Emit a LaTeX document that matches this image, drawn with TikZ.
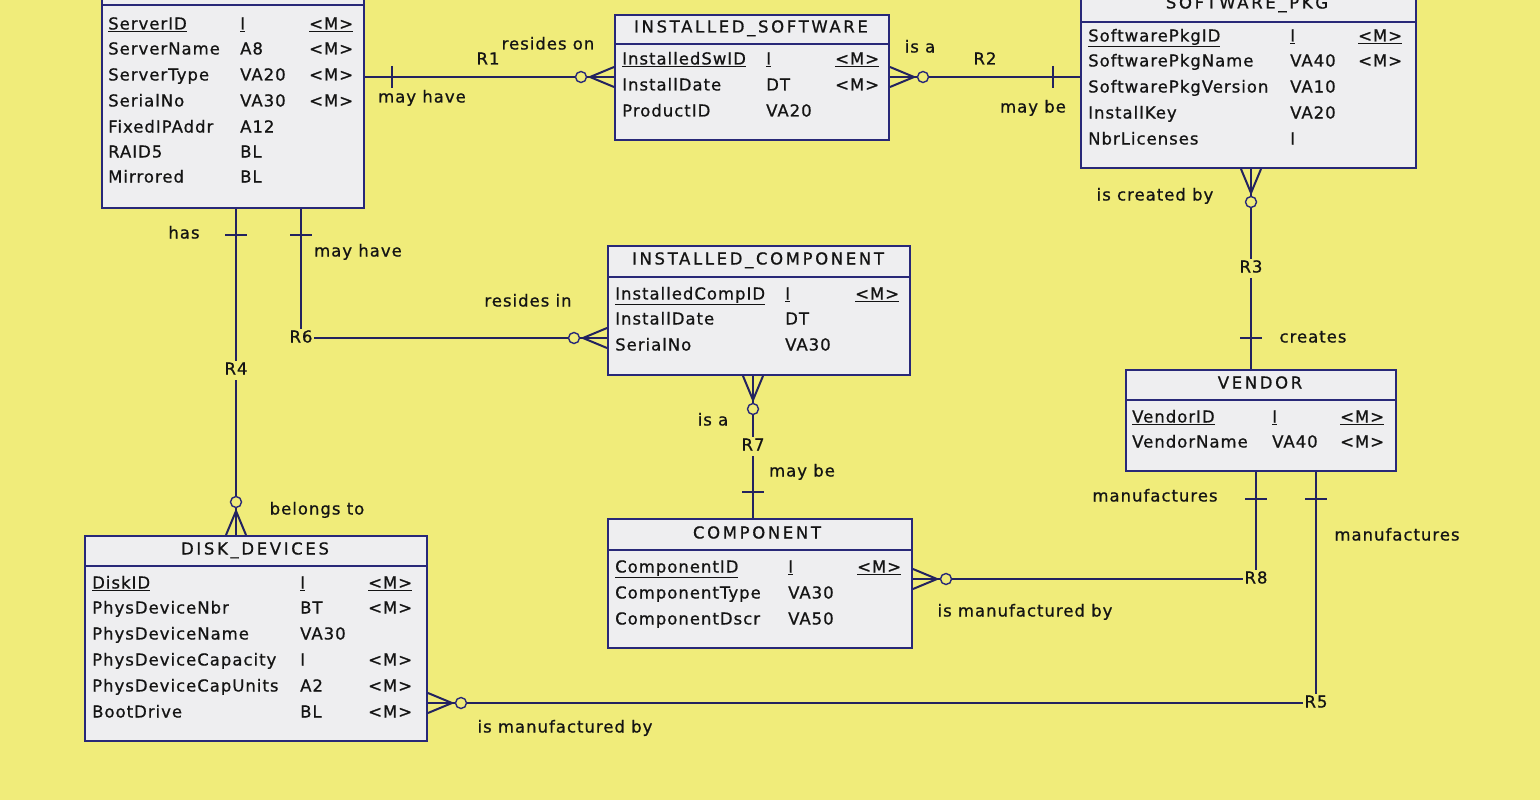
\documentclass[tikz,border=0pt]{standalone}
\usepackage{fontspec}
\setmainfont{DejaVu Sans}[LetterSpace=6,FakeBold=0.8]
\newfontfamily\titlefont{DejaVu Sans}[LetterSpace=16,FakeBold=0.8]
\usetikzlibrary{calc}
\definecolor{bg}{RGB}{240,236,122}
\definecolor{boxfill}{RGB}{238,238,240}
\definecolor{navy}{RGB}{40,40,120}
\definecolor{lnc}{RGB}{35,35,95}
\definecolor{txt}{RGB}{20,20,20}
\tikzset{
 entity/.style={draw=navy, line width=2pt, fill=boxfill, rectangle, inner sep=0pt, anchor=north west},
 sepline/.style={draw=navy, line width=2pt},
 attr/.style={anchor=west, inner sep=0pt, text height=12pt, text depth=3pt, font=\fontsize{16.5}{18}\selectfont, text=txt},
 etitle/.style={anchor=center, inner sep=0pt, text height=12pt, text depth=3pt, font=\titlefont\fontsize{16.5}{18}\selectfont, text=txt},
 lbl/.style={anchor=center, inner sep=0pt, text height=12pt, text depth=3pt, font=\fontsize{16.5}{18}\selectfont, text=txt},
 rlbl/.style={lbl, fill=bg, inner sep=2pt},
 conn/.style={draw=lnc, line width=2pt},
 zero/.style={draw=navy, line width=1.4pt, fill=bg},
}
\newcommand\ercols[3]{\def\erA{#1}\def\erB{#2}\def\erC{#3}}
\newcommand\erowm[5]{\node[attr] (#1n) at (\erA,#2) {#3}; \node[attr] (#1t) at (\erB,#2) {#4}; \node[attr] (#1m) at (\erC,#2) {#5};}
\newcommand\erowt[4]{\node[attr] (#1n) at (\erA,#2) {#3}; \node[attr] (#1t) at (\erB,#2) {#4};}
\newcommand\crowfoot[3]{%
 \draw[conn] ($(#1)+({24*(#2)},{24*(#3)})$) -- ($(#1)+({10*(#3)},{-10*(#2)})$)
   ($(#1)+({24*(#2)},{24*(#3)})$) -- ($(#1)+({-10*(#3)},{10*(#2)})$);
 \draw[zero] ($(#1)+({33*(#2)},{33*(#3)})$) circle[radius=5.5pt];}
\newcommand\tickH[1]{\draw[conn] ($(#1)+(-11,0)$) -- ($(#1)+(11,0)$);}
\newcommand\tickV[1]{\draw[conn] ($(#1)+(0,-11)$) -- ($(#1)+(0,11)$);}
\begin{document}
\begin{tikzpicture}[x=1pt,y=-1pt]
\useasboundingbox (0,0) rectangle (1540,800);
\clip (0,0) rectangle (1540,800);
\fill[bg] (0,0) rectangle (1540,800);

% entity boxes
\node[entity, minimum width=262pt, minimum height=237pt] (server) at (101,-30) {};
\node[entity, minimum width=274pt, minimum height=125pt] (isw) at (614,14) {};
\node[entity, minimum width=335pt, minimum height=181pt] (swp) at (1080,-14) {};
\node[entity, minimum width=302pt, minimum height=129pt] (icomp) at (607,245) {};
\node[entity, minimum width=270pt, minimum height=101pt] (vendor) at (1125,369) {};
\node[entity, minimum width=304pt, minimum height=129pt] (comp) at (607,518) {};
\node[entity, minimum width=342pt, minimum height=205pt] (disk) at (84,535) {};

% separators
\draw[sepline] (server.west |- 0,5) -- (server.east |- 0,5);
\draw[sepline] (isw.west |- 0,44) -- (isw.east |- 0,44);
\draw[sepline] (swp.west |- 0,22) -- (swp.east |- 0,22);
\draw[sepline] (icomp.west |- 0,277) -- (icomp.east |- 0,277);
\draw[sepline] (vendor.west |- 0,400) -- (vendor.east |- 0,400);
\draw[sepline] (comp.west |- 0,550) -- (comp.east |- 0,550);
\draw[sepline] (disk.west |- 0,566) -- (disk.east |- 0,566);

% titles
\node[etitle] (iswT) at (751,28) {INSTALLED\_SOFTWARE};
\node[etitle] (swpT) at (1247,4) {SOFTWARE\_PKG};
\node[etitle] (icompT) at (758,260) {INSTALLED\_COMPONENT};
\node[etitle] (vendorT) at (1260,384) {VENDOR};
\node[etitle] (compT) at (757,534) {COMPONENT};
\node[etitle] (diskT) at (255,550) {DISK\_DEVICES};

% server attributes
\ercols{108}{240}{309}
\erowm{s1}{25}{\underline{ServerID}}{\underline{I}}{\underline{<M>}}
\erowm{s2}{50}{ServerName}{A8}{<M>}
\erowm{s3}{76}{ServerType}{VA20}{<M>}
\erowm{s4}{102}{SerialNo}{VA30}{<M>}
\erowt{s5}{128}{FixedIPAddr}{A12}
\erowt{s6}{153}{RAID5}{BL}
\erowt{s7}{178}{Mirrored}{BL}

\ercols{622}{766}{835}
\erowm{i1}{60}{\underline{InstalledSwID}}{\underline{I}}{\underline{<M>}}
\erowm{i2}{86}{InstallDate}{DT}{<M>}
\erowt{i3}{112}{ProductID}{VA20}

\ercols{1088}{1290}{1358}
\erowm{p1}{37}{\underline{SoftwarePkgID}}{\underline{I}}{\underline{<M>}}
\erowm{p2}{62}{SoftwarePkgName}{VA40}{<M>}
\erowt{p3}{88}{SoftwarePkgVersion}{VA10}
\erowt{p4}{114}{InstallKey}{VA20}
\erowt{p5}{140}{NbrLicenses}{I}

\ercols{615}{785}{855}
\erowm{c1}{295}{\underline{InstalledCompID}}{\underline{I}}{\underline{<M>}}
\erowt{c2}{320}{InstallDate}{DT}
\erowt{c3}{346}{SerialNo}{VA30}

\ercols{1132}{1272}{1340}
\erowm{v1}{418}{\underline{VendorID}}{\underline{I}}{\underline{<M>}}
\erowm{v2}{443}{VendorName}{VA40}{<M>}

\ercols{615}{788}{857}
\erowm{m1}{568}{\underline{ComponentID}}{\underline{I}}{\underline{<M>}}
\erowt{m2}{594}{ComponentType}{VA30}
\erowt{m3}{620}{ComponentDscr}{VA50}

\ercols{92}{300}{368}
\erowm{d1}{584}{\underline{DiskID}}{\underline{I}}{\underline{<M>}}
\erowm{d2}{609}{PhysDeviceNbr}{BT}{<M>}
\erowt{d3}{635}{PhysDeviceName}{VA30}
\erowm{d4}{661}{PhysDeviceCapacity}{I}{<M>}
\erowm{d5}{687}{PhysDeviceCapUnits}{A2}{<M>}
\erowm{d6}{713}{BootDrive}{BL}{<M>}

% relationship reference points
\coordinate (r1) at (488,77);
\coordinate (r2) at (985,77);
\coordinate (r3) at (1251,268);
\coordinate (r4) at (236,370);
\coordinate (r6) at (301,338);
\coordinate (r7) at (753,446);
\coordinate (r8) at (1256,579);
\coordinate (r5) at (1316,703);

\coordinate (e1a) at (server.east |- r1);  \coordinate (e1b) at (isw.west |- r1);
\coordinate (e2a) at (isw.east |- r2);     \coordinate (e2b) at (swp.west |- r2);
\coordinate (e3a) at (swp.south -| r3);    \coordinate (e3b) at (vendor.north -| r3);
\coordinate (e4a) at (server.south -| r4); \coordinate (e4b) at (disk.north -| r4);
\coordinate (e6a) at (server.south -| r6); \coordinate (e6b) at (icomp.west |- r6);
\coordinate (e7a) at (icomp.south -| r7);  \coordinate (e7b) at (comp.north -| r7);
\coordinate (e8a) at (vendor.south -| r8); \coordinate (e8b) at (comp.east |- r8);
\coordinate (e5a) at (vendor.south -| r5); \coordinate (e5b) at (disk.east |- r5);

% connectors
\draw[conn] (e1a) -- (e1b);
\draw[conn] (e2a) -- (e2b);
\draw[conn] (e3a) -- (e3b);
\draw[conn] (e4a) -- (e4b);
\draw[conn] (e6a) -- (r6) -- (e6b);
\draw[conn] (e7a) -- (e7b);
\draw[conn] (e8a) -- (r8) -- (e8b);
\draw[conn] (e5a) -- (r5) -- (e5b);

% many ends
\crowfoot{e1b}{-1}{0}
\crowfoot{e2a}{1}{0}
\crowfoot{e3a}{0}{1}
\crowfoot{e4b}{0}{-1}
\crowfoot{e6b}{-1}{0}
\crowfoot{e7a}{0}{1}
\crowfoot{e8b}{1}{0}
\crowfoot{e5b}{1}{0}

% one ends
\tickV{$(e1a)+(27,0)$}
\tickV{$(e2b)+(-27,0)$}
\tickH{$(e3b)+(0,-31)$}
\tickH{$(e4a)+(0,26)$}
\tickH{$(e6a)+(0,26)$}
\tickH{$(e7b)+(0,-26)$}
\tickH{$(e8a)+(0,27)$}
\tickH{$(e5a)+(0,27)$}

% labels
\node[lbl] (l1a) at (488,60) {R1};
\node[lbl] (l1b) at (548,45) {resides on};
\node[lbl] (l1c) at (422,98) {may have};
\node[lbl] (l2a) at (920,48) {is a};
\node[lbl] (l2b) at (985,60) {R2};
\node[lbl] (l2c) at (1033,108) {may be};
\node[lbl] (l3a) at (1155,196) {is created by};
\node[rlbl] (l3b) at (r3) {R3};
\node[lbl] (l3c) at (1313,338) {creates};
\node[lbl] (l4a) at (184,234) {has};
\node[rlbl] (l4b) at (r4) {R4};
\node[lbl] (l4c) at (317,510) {belongs to};
\node[lbl] (l6a) at (358,252) {may have};
\node[rlbl] (l6b) at (r6) {R6};
\node[lbl] (l6c) at (528,302) {resides in};
\node[lbl] (l7a) at (713,421) {is a};
\node[rlbl] (l7b) at (r7) {R7};
\node[lbl] (l7c) at (802,472) {may be};
\node[lbl] (l8a) at (1155,497) {manufactures};
\node[rlbl] (l8b) at (r8) {R8};
\node[lbl] (l8c) at (1025,612) {is manufactured by};
\node[lbl] (l5a) at (1397,536) {manufactures};
\node[rlbl] (l5b) at (r5) {R5};
\node[lbl] (l5c) at (565,728) {is manufactured by};
\end{tikzpicture}
\end{document}
